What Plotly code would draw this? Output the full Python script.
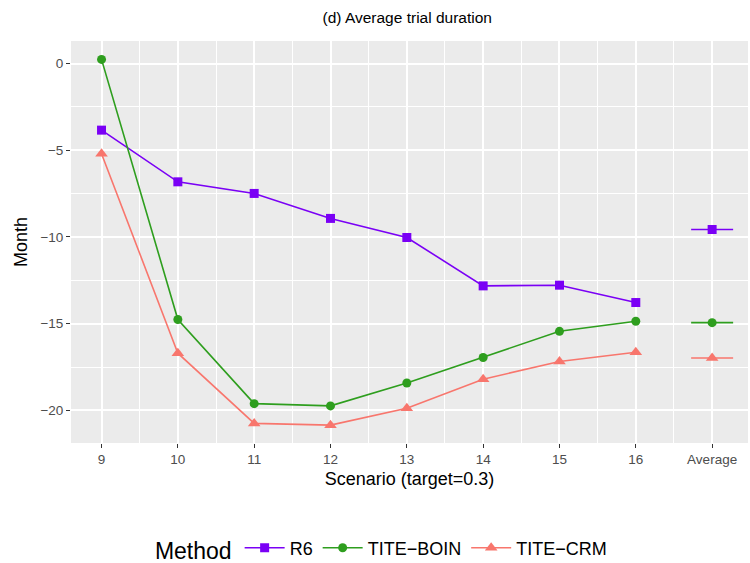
import plotly.graph_objects as go

categories = ["9", "10", "11", "12", "13", "14", "15", "16", "Average"]
r6 = [-3.84, -6.82, -7.49, -8.93, -10.03, -12.82, -12.78, -13.78, -9.57]
tite_boin = [0.24, -14.76, -19.61, -19.74, -18.42, -16.95, -15.44, -14.86, -14.94]
tite_crm = [-5.2, -16.7, -20.75, -20.85, -19.88, -18.2, -17.18, -16.65, -16.98]
y_ticks = [0, -5, -10, -15, -20]

series = [
    ("R6", r6, "#7A00F5", "square"),
    ("TITE\u2212BOIN", tite_boin, "#2E9E1E", "circle"),
    ("TITE\u2212CRM", tite_crm, "#F8766D", "triangle-up"),
]

xpos = list(range(len(categories)))
fig = go.Figure()
for name, vals, col, sym in series:
    fig.add_trace(go.Scatter(
        x=xpos[:-1], y=vals[:-1], mode="lines+markers", name=name,
        line=dict(color=col, width=1.6),
        marker=dict(symbol=sym, size=9 if sym != "triangle-up" else 11, color=col),
    ))
for name, vals, col, sym in series:
    fig.add_trace(go.Scatter(
        x=[xpos[-1]], y=[vals[-1]], mode="markers", showlegend=False,
        marker=dict(symbol="line-ew", size=30, color=col, line=dict(color=col, width=1.6)),
    ))
    fig.add_trace(go.Scatter(
        x=[xpos[-1]], y=[vals[-1]], mode="markers", showlegend=False,
        marker=dict(symbol=sym, size=9 if sym != "triangle-up" else 11, color=col),
    ))

font_family = "Liberation Sans, Arial, sans-serif"
fig.update_layout(
    width=750, height=563,
    margin=dict(l=71, r=2, t=41, b=120, autoexpand=False),
    paper_bgcolor="white", plot_bgcolor="#EBEBEB",
    font=dict(family=font_family, color="black"),
    title=dict(text="(d) Average trial duration", x=0.543, xanchor="center",
               y=0.968, yanchor="middle", font=dict(size=15.5, color="black")),
    xaxis=dict(
        range=[-0.4, 8.47], tickmode="array", tickvals=xpos, ticktext=categories,
        showgrid=True, gridcolor="white", gridwidth=1.6, zeroline=False,
        ticks="outside", ticklen=4, tickcolor="#333333",
        tickfont=dict(size=13.5, color="#4D4D4D"),
        minor=dict(dtick=0.5, tick0=0.5, showgrid=True, gridcolor="white", gridwidth=0.7),
        title=dict(text="Scenario (target=0.3)", font=dict(size=18), standoff=6),
        automargin=False,
    ),
    yaxis=dict(
        range=[-21.88, 1.3], tickmode="array", tickvals=y_ticks,
        ticktext=[("\u2212" + str(-v)) if v < 0 else str(v) for v in y_ticks],
        showgrid=True, gridcolor="white", gridwidth=1.6, zeroline=False,
        ticks="outside", ticklen=4, tickcolor="#333333",
        tickfont=dict(size=13.5, color="#4D4D4D"),
        minor=dict(dtick=2.5, tick0=2.5, showgrid=True, gridcolor="white", gridwidth=0.7),
        title=dict(text="Month", font=dict(size=18), standoff=8),
        automargin=False,
    ),
    legend=dict(
        orientation="h", x=0.46, xanchor="center", y=-0.265, yanchor="middle",
        title=dict(text="Method", font=dict(size=23)),
        font=dict(size=18), itemwidth=40, tracegroupgap=0,
    ),
)
fig.write_html("out.html")
